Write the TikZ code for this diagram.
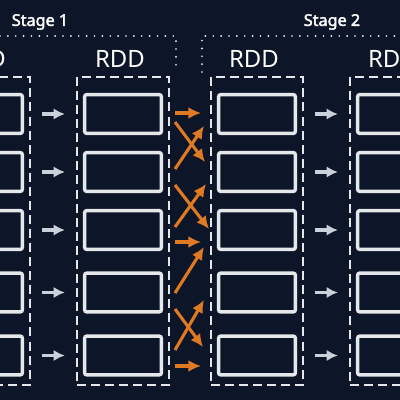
\documentclass[tikz,border=0pt]{standalone}
\usepackage{fontspec}
\setmainfont{Noto Sans}[AutoFakeBold=2.2]
\usetikzlibrary{arrows.meta}
\definecolor{bgnavy}{HTML}{0C1628}
\definecolor{boxwhite}{HTML}{E6E7EA}
\definecolor{shuffleorange}{HTML}{E07A22}
\definecolor{arrowgrey}{HTML}{C9D1DD}
\tikzset{
  rdd/.style={draw=boxwhite,line width=2.4pt,fill=bgnavy,rounded corners=1.5pt,minimum width=1.92cm,minimum height=0.97cm},
  partset/.style={draw=boxwhite,line width=1.4pt,dash pattern=on 6.4pt off 3.6pt,minimum width=2.3cm,minimum height=7.7cm},
  rddlabel/.style={text=white,font=\fontsize{17}{17}\selectfont},
  stagelabel/.style={text=white,font=\bfseries\fontsize{11.5}{11.5}\selectfont},
  stageline/.style={draw=white,line width=1.4pt,dash pattern=on 0pt off 5.6pt,line cap=round},
  narrowdep/.style={draw=arrowgrey,line width=2.2pt,-{Latex[length=8pt,width=8pt]},shorten <=0.45cm,shorten >=0.45cm},
  widedep/.style={draw=shuffleorange,line width=2.2pt,-{Latex[length=9pt,width=8.5pt]}}
}

\begin{document}
\begin{tikzpicture}[x=0.025cm,y=-0.025cm]
  \useasboundingbox (0,0) rectangle (400,400);
  \fill[bgnavy] (0,0) rectangle (400,400);
  \clip (0,0) rectangle (400,400);

  % stages
  \node[stagelabel] (s1) at (40,22) {Stage 1};
  \node[stagelabel] (s2) at (332,22) {Stage 2};
  \draw[stageline] (0,36) -- (176,36) -- (176,72);
  \draw[stageline] (202,72) -- (202,36) -- (400,36);

  % rdds and their partitions
  \foreach \c/\x in {1/-16, 2/123, 3/257, 4/396} {
    \node[rddlabel] (l\c) at (\x-3,59) {RDD};
    \node[partset] (p\c) at (\x,231) {};
    \foreach \r/\y in {1/114, 2/172, 3/230, 4/292.5, 5/355.5}
      \node[rdd] (b\c-\r) at (\x,\y) {};
  }

  % narrow dependencies
  \foreach \r in {1,...,5} {
    \draw[narrowdep] (b1-\r) -- (b2-\r);
    \draw[narrowdep] (b3-\r) -- (b4-\r);
  }

  % wide dependencies (shuffle)
  \foreach \i/\ya/\xb/\yb in {1/113/201/113, 2/122/205/162, 3/169/204/126, 4/185/209/229, 5/227/206/184,
                              6/242/201/242, 7/293/204/247, 8/309/203/347, 9/350/204/300, 10/366/201/366} {
    \coordinate (w\i) at (175,\ya);
    \coordinate (v\i) at (\xb,\yb);
    \draw[widedep] (w\i) -- (v\i);
  }
\end{tikzpicture}
\end{document}
